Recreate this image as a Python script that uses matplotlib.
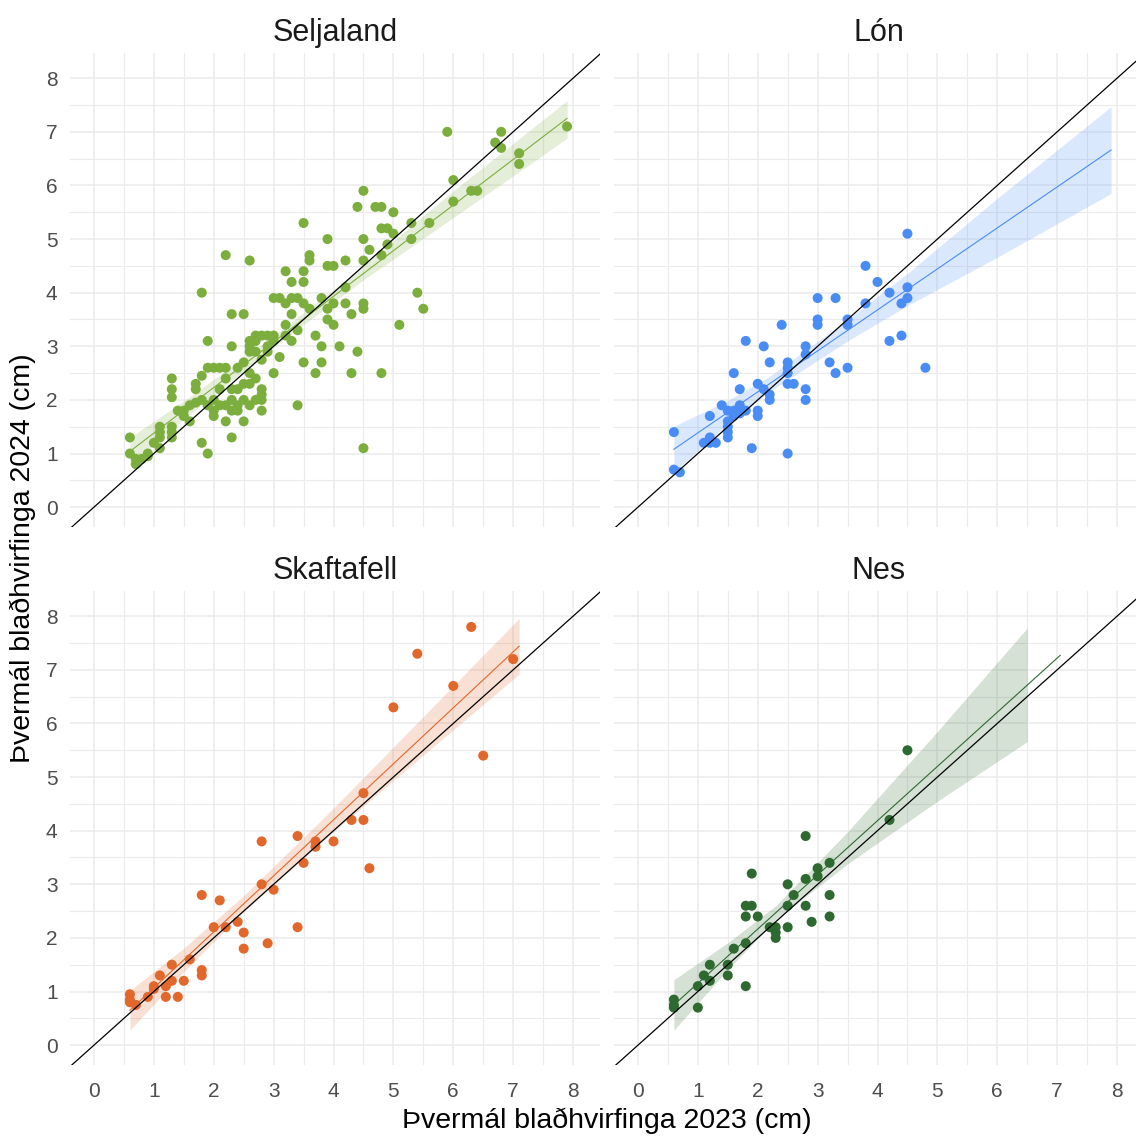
import numpy as np
import matplotlib.pyplot as plt

plt.rcParams['font.family'] = ['Liberation Sans', 'DejaVu Sans']

sites = ['Seljaland', 'Lón', 'Skaftafell', 'Nes']
site_colors = ['#7CAE3E', '#4A8CF5', '#E2672B', '#2E6A30']

# leaf rosette diameter (cm), 2023 vs 2024
seljaland_2023 = [0.6, 0.6, 0.7, 0.7, 0.8, 0.9, 0.9, 1.0, 1.1, 1.1, 1.1, 1.1,
                  1.3, 1.3, 1.3, 1.3, 1.3, 1.3, 1.4, 1.5, 1.5, 1.6, 1.6,
                  1.7, 1.7, 1.7, 1.8, 1.8, 1.8, 1.8, 1.9, 1.9, 1.9, 1.9,
                  2.0, 2.0, 2.0, 2.0, 2.1, 2.1, 2.2, 2.2, 2.2, 2.2,
                  2.3, 2.3, 2.3, 2.3, 2.3, 2.3, 2.4, 2.4, 2.4, 2.5, 2.5, 2.5, 2.5,
                  2.6, 2.6, 2.6, 2.6, 2.6, 2.6, 2.7, 2.7, 2.7, 2.7,
                  2.8, 2.8, 2.8, 2.8, 2.8, 2.8, 2.9, 2.9,
                  3.0, 3.0, 3.0, 3.0, 3.1, 3.1, 3.2, 3.2, 3.2, 3.2,
                  3.3, 3.3, 3.3, 3.3, 3.4, 3.4, 3.4, 3.5, 3.5, 3.5, 3.5, 3.5,
                  3.6, 3.6, 3.6, 3.7, 3.7, 3.8, 3.8, 3.8, 3.9, 3.9, 3.9, 3.9,
                  4.0, 4.0, 4.0, 4.1, 4.2, 4.2, 4.2, 4.3, 4.3, 4.4, 4.4,
                  4.5, 4.5, 4.5, 4.5, 4.5, 4.5, 4.6, 4.7, 4.8, 4.8, 4.9, 4.9, 4.8, 4.8,
                  5.0, 5.0, 5.1, 5.3, 5.3, 5.4, 5.5, 5.6, 5.9, 6.0, 6.0, 6.3, 6.4,
                  6.7, 6.8, 6.8, 7.1, 7.1, 7.9,
                  2.6, 2.7, 2.9, 2.4, 2.5, 2.1, 2.2]
seljaland_2024 = [1.3, 1.0, 0.8, 0.9, 0.9, 0.95, 1.0, 1.2, 1.1, 1.3, 1.4, 1.5,
                  2.4, 2.2, 2.05, 1.5, 1.4, 1.3, 1.8, 1.8, 1.7, 1.9, 1.6,
                  1.95, 2.2, 2.3, 2.45, 2.0, 4.0, 1.2, 1.0, 3.1, 2.6, 1.9,
                  2.6, 1.8, 1.7, 2.0, 2.6, 2.2, 2.6, 2.4, 4.7, 1.6,
                  3.6, 3.0, 2.2, 2.0, 1.3, 1.8, 1.9, 1.8, 2.6, 2.7, 3.6, 2.0, 1.6,
                  2.5, 2.3, 1.9, 4.6, 2.9, 3.0, 2.4, 3.1, 2.9, 2.0,
                  2.2, 2.1, 2.0, 1.8, 3.2, 2.75, 3.0, 3.2,
                  3.1, 3.9, 2.5, 3.2, 2.8, 3.9, 3.8, 4.4, 3.4, 3.2,
                  4.2, 3.6, 3.1, 3.9, 3.3, 1.9, 3.9, 5.3, 4.4, 4.2, 2.7, 3.8,
                  4.7, 4.6, 3.7, 3.2, 2.5, 3.0, 2.7, 3.9, 5.0, 4.5, 3.5, 3.7,
                  4.5, 3.4, 3.8, 3.0, 4.6, 4.1, 3.8, 3.6, 2.5, 5.6, 2.9,
                  5.9, 5.0, 4.6, 3.8, 3.7, 1.1, 4.8, 5.6, 5.6, 5.2, 5.2, 4.9, 4.7, 2.5,
                  5.5, 5.1, 3.4, 5.3, 5.0, 4.0, 3.7, 5.3, 7.0, 6.1, 5.7, 5.9, 5.9,
                  6.8, 7.0, 6.7, 6.6, 6.4, 7.1,
                  3.1, 3.2, 2.9, 2.2, 2.3, 1.9, 1.9]

lon_2023 = [0.6, 0.6, 0.7, 1.1, 1.2, 1.2, 1.2, 1.3, 1.4, 1.5, 1.5, 1.5, 1.5, 1.5,
            1.6, 1.6, 1.6, 1.7, 1.7, 1.7, 1.8, 1.8, 1.9, 2.0, 2.0, 2.0, 2.1, 2.1,
            2.2, 2.2, 2.2, 2.4, 2.5, 2.5, 2.5, 2.5, 2.5, 2.6, 2.8, 2.8, 2.8, 2.8,
            3.0, 3.0, 3.0, 3.2, 3.3, 3.3, 3.5, 3.5, 3.5, 3.8, 3.8, 4.0, 4.2, 4.2,
            4.4, 4.4, 4.5, 4.5, 4.5, 4.8]
lon_2024 = [1.4, 0.7, 0.65, 1.2, 1.3, 1.7, 1.2, 1.2, 1.9, 1.8, 1.6, 1.5, 1.4, 1.3,
            1.8, 1.7, 2.5, 1.9, 1.75, 2.2, 1.8, 3.1, 1.1, 2.3, 1.8, 1.7, 3.0, 2.2,
            2.7, 2.1, 2.0, 3.4, 2.7, 2.6, 2.5, 2.3, 1.0, 2.3, 3.0, 2.85, 2.2, 2.0,
            3.9, 3.5, 3.4, 2.7, 3.9, 2.5, 3.5, 3.4, 2.6, 4.5, 3.8, 4.2, 4.0, 3.1,
            3.8, 3.2, 5.1, 4.1, 3.9, 2.6]

skaftafell_2023 = [0.6, 0.6, 0.6, 0.7, 0.9, 1.0, 1.0, 1.1, 1.2, 1.2, 1.3, 1.3, 1.4,
                   1.5, 1.6, 1.8, 1.8, 1.8, 2.0, 2.1, 2.2, 2.4, 2.5, 2.5, 2.8, 2.8,
                   2.9, 3.0, 3.4, 3.4, 3.5, 3.7, 3.7, 4.0, 4.3, 4.5, 4.5, 4.6, 5.0,
                   5.4, 6.0, 6.3, 6.5, 7.0]
skaftafell_2024 = [0.95, 0.85, 0.8, 0.75, 0.9, 1.1, 1.05, 1.3, 1.1, 0.9, 1.5, 1.2, 0.9,
                   1.2, 1.6, 1.4, 1.3, 2.8, 2.2, 2.7, 2.2, 2.3, 2.1, 1.8, 3.8, 3.0,
                   1.9, 2.9, 3.9, 2.2, 3.4, 3.8, 3.7, 3.8, 4.2, 4.7, 4.2, 3.3, 6.3,
                   7.3, 6.7, 7.8, 5.4, 7.2]

nes_2023 = [0.6, 0.6, 0.6, 1.0, 1.0, 1.1, 1.2, 1.2, 1.5, 1.5, 1.6, 1.8, 1.8, 1.8,
            1.8, 1.9, 1.9, 2.0, 2.2, 2.3, 2.3, 2.3, 2.5, 2.5, 2.5, 2.6, 2.8, 2.8,
            2.8, 2.9, 3.0, 3.0, 3.2, 3.2, 3.2, 4.2, 4.5]
nes_2024 = [0.85, 0.75, 0.7, 0.7, 1.1, 1.3, 1.2, 1.5, 1.5, 1.3, 1.8, 1.1, 1.9, 2.4,
            2.6, 2.6, 3.2, 2.4, 2.2, 2.1, 2.0, 2.2, 2.2, 2.6, 3.0, 2.8, 2.6, 3.1,
            3.9, 2.3, 3.3, 3.15, 3.4, 2.8, 2.4, 4.2, 5.5]

# fitted line (ends) and its confidence band
seljaland_fit_x = [0.6, 7.9]
seljaland_fit_y = [1.04, 7.25]
seljaland_band_x = [0.6, 1.5, 3.0, 4.5, 6.0, 7.9]
seljaland_band_lo = [0.78, 1.64, 2.99, 4.24, 5.40, 6.88]
seljaland_band_hi = [1.30, 1.98, 3.19, 4.50, 5.90, 7.58]

lon_fit_x = [0.6, 7.9]
lon_fit_y = [1.08, 6.66]
lon_band_x = [0.6, 1.5, 2.2, 3.5, 4.5, 6.0, 7.9]
lon_band_lo = [0.65, 1.55, 2.16, 3.10, 3.76, 4.66, 5.85]
lon_band_hi = [1.51, 1.99, 2.44, 3.50, 4.36, 5.76, 7.47]

skaftafell_fit_x = [0.6, 7.1]
skaftafell_fit_y = [0.65, 7.44]
skaftafell_band_x = [0.6, 1.5, 2.5, 4.0, 5.5, 7.1]
skaftafell_band_lo = [0.28, 1.37, 2.49, 3.98, 5.41, 6.92]
skaftafell_band_hi = [1.02, 1.81, 2.79, 4.42, 6.13, 7.96]

nes_fit_x = [0.6, 7.05]
nes_fit_y = [0.75, 7.27]
nes_band_x = [0.6, 1.5, 2.3, 3.5, 5.0, 6.5]
nes_band_lo = [0.28, 1.41, 2.34, 3.38, 4.55, 5.66]
nes_band_hi = [1.22, 1.91, 2.60, 3.98, 5.85, 7.78]

pts = [(seljaland_2023, seljaland_2024), (lon_2023, lon_2024),
       (skaftafell_2023, skaftafell_2024), (nes_2023, nes_2024)]
fits = [(seljaland_fit_x, seljaland_fit_y, seljaland_band_x, seljaland_band_lo, seljaland_band_hi),
        (lon_fit_x, lon_fit_y, lon_band_x, lon_band_lo, lon_band_hi),
        (skaftafell_fit_x, skaftafell_fit_y, skaftafell_band_x, skaftafell_band_lo, skaftafell_band_hi),
        (nes_fit_x, nes_fit_y, nes_band_x, nes_band_lo, nes_band_hi)]

W, H = 1136, 1137
fig = plt.figure(figsize=(W / 100, H / 100), dpi=100)

# panel boxes in pixels: left, top, right, bottom
boxes = [(70, 53, 600, 527), (614, 53, 1144, 527),
         (70, 591, 600, 1065), (614, 591, 1144, 1065)]

for i, (site, col) in enumerate(zip(sites, site_colors)):
    l, t, r, b = boxes[i]
    ax = fig.add_axes([l / W, 1 - b / H, (r - l) / W, (b - t) / H])
    ax.set_xlim(-0.4, 8.45)
    ax.set_ylim(-0.37, 8.47)
    ax.set_xticks(np.arange(0, 9))
    ax.set_yticks(np.arange(0, 9))
    ax.set_xticks(np.arange(0.5, 8, 1), minor=True)
    ax.set_yticks(np.arange(0.5, 8, 1), minor=True)
    ax.grid(which='major', color='#EBEBEB', lw=1.1, zorder=0)
    ax.grid(which='minor', color='#EBEBEB', lw=0.8, zorder=0)
    ax.set_axisbelow(True)
    for s in ax.spines.values():
        s.set_visible(False)
    ax.tick_params(which='both', length=0, labelsize=15, colors='#4D4D4D')
    ax.tick_params(axis='x', pad=12)
    ax.tick_params(axis='y', pad=9)
    if i % 2 == 1:
        ax.set_yticklabels([])
    if i < 2:
        ax.set_xticklabels([])

    x, y = pts[i]
    ax.scatter(x, y, s=52, color=col, edgecolors='none', zorder=2)

    fx, fy, bx, blo, bhi = fits[i]
    ax.fill_between(bx, blo, bhi, color=col, alpha=0.2, lw=0, zorder=3)
    ax.plot(fx, fy, color=col, lw=0.8, zorder=4)
    ax.axline((0, 0), (1, 1), color='black', lw=0.9, zorder=5)

    fig.text((l + r) / 2 / W, 1 - (t - 12) / H, site, ha='center', va='baseline',
             fontsize=22, color='#1A1A1A')

fig.text(607 / W, 1 - 1121 / H, 'Þvermál blaðhvirfinga 2023 (cm)',
         ha='center', va='center', fontsize=20.5)
fig.text(23 / W, 1 - 558 / H, 'Þvermál blaðhvirfinga 2024 (cm)',
         ha='center', va='center', rotation=90, fontsize=20.5)

fig.savefig('out.png', dpi=100)
